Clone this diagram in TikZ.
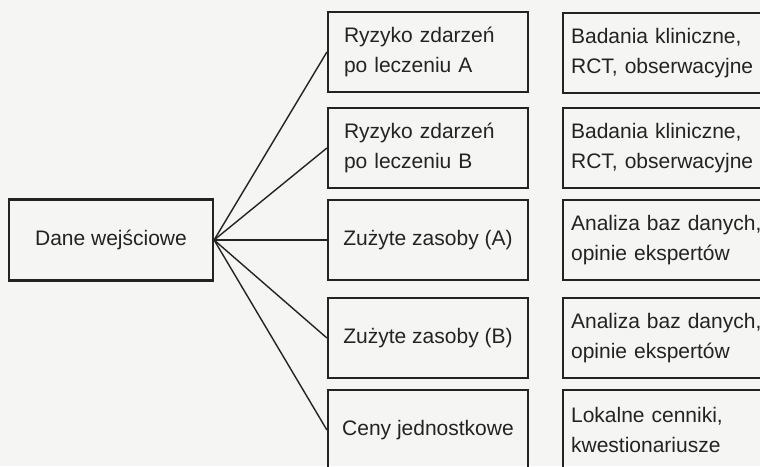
\documentclass[tikz,border=0pt]{standalone}
\usepackage{fontspec}
\setmainfont{Liberation Sans}
\usepackage{tikz}
\usetikzlibrary{positioning}
\definecolor{paper}{RGB}{245,245,243}
\definecolor{ink}{RGB}{35,35,35}

\begin{document}
\begin{tikzpicture}[x=1pt, y=-1pt,
  box/.style={draw=ink, line width=2.2pt, text=ink, minimum height=80pt, align=left,
    inner xsep=0pt, font=\fontsize{21}{30}\selectfont},
  midbox/.style={box, minimum width=200pt},
  riskbox/.style={midbox, inner xsep=16pt, text width=168pt},
  srcbox/.style={box, anchor=west, inner xsep=8pt, text width=210pt},
  link/.style={draw=ink, line width=1.4pt}]

  % page
  \fill[paper] (0,0) rectangle (760,466);
  \useasboundingbox (0,0) rectangle (760,466);

  % Input data
  \node[box, minimum width=204pt, minimum height=81pt] (dane) at (111,240) {Dane wejściowe};

  % Model parameters
  \node[riskbox] (ryzA) at (428,52) {Ryzyko zdarzeń\\po leczeniu A};
  \node[riskbox] (ryzB) at (428,148) {Ryzyko zdarzeń\\po leczeniu B};
  \node[midbox] (zasA) at (428,240) {Zużyte zasoby (A)};
  \node[midbox] (zasB) at (428,338) {Zużyte zasoby (B)};
  \node[midbox] (ceny) at (428,430) {Ceny jednostkowe};

  % Sources
  \node[srcbox] (srcA) at (562,53) {Badania kliniczne,\\RCT, obserwacyjne};
  \node[srcbox] (srcB) at (562,148) {Badania kliniczne,\\RCT, obserwacyjne};
  \node[srcbox] (srcC) at (562,240) {Analiza baz danych,\\opinie ekspertów};
  \node[srcbox] (srcD) at (562,338) {Analiza baz danych,\\opinie ekspertów};
  \node[srcbox] (srcE) at (562,430) {Lokalne cenniki,\\kwestionariusze};

  % Fan-out
  \draw[link] (dane.east) -- (ryzA.west);
  \draw[link] (dane.east) -- (ryzB.west);
  \draw[link] (dane.east) -- (zasA.west);
  \draw[link] (dane.east) -- (zasB.west);
  \draw[link] (dane.east) -- (ceny.west);
\end{tikzpicture}
\end{document}
